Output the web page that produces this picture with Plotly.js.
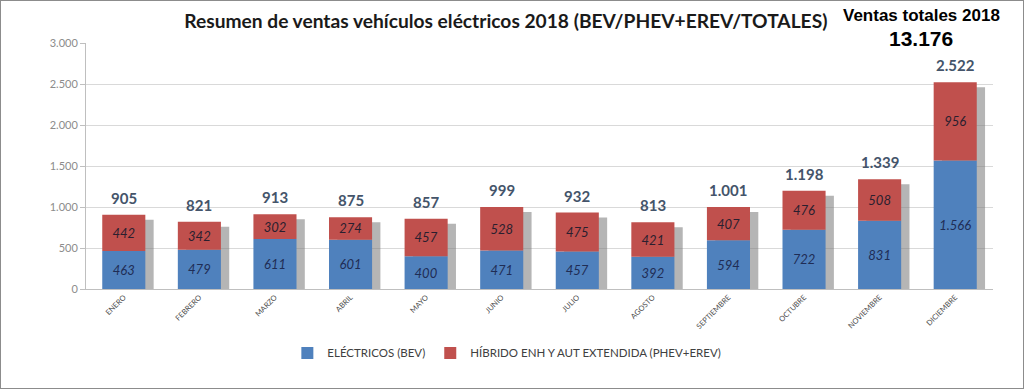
<!DOCTYPE html>
<html>
<head>
<meta charset="utf-8">
<script src="https://cdn.plot.ly/plotly-3.0.1.min.js"></script>
<style>
  html, body { margin: 0; padding: 0; background: #fff; }
  #chart { width: 1022px; height: 387px; border: 1px solid #8c8c8c; }
</style>
</head>
<body>
<div id="chart"></div>
<script>
const months = ["ENERO","FEBRERO","MARZO","ABRIL","MAYO","JUNIO","JULIO","AGOSTO","SEPTIEMBRE","OCTUBRE","NOVIEMBRE","DICIEMBRE"];
const bev = [463, 479, 611, 601, 400, 471, 457, 392, 594, 722, 831, 1566];
const hybrid = [442, 342, 302, 274, 457, 528, 475, 421, 407, 476, 508, 956];
const totals = [905, 821, 913, 875, 857, 999, 932, 813, 1001, 1198, 1339, 2522];
const yearTotalLabel = "13.176";
const titleText = "Resumen de ventas vehículos eléctricos 2018 (BEV/PHEV+EREV/TOTALES)";

const BAR_W = 0.57;
const bodyFont = "Lato, 'Open Sans', sans-serif";

const traces = [
  { // drop shadow (on shifted base axis)
    type: "bar", x: months, y: totals, xaxis: "x", yaxis: "y",
    width: BAR_W, offset: -BAR_W/2 + 0.11,
    marker: { color: "rgba(120,120,120,0.55)", line: { width: 0 } },
    showlegend: false, hoverinfo: "skip"
  },
  {
    type: "bar", name: "ELÉCTRICOS (BEV)", x: months, y: bev, xaxis: "x", yaxis: "y2",
    width: BAR_W, offset: -BAR_W/2,
    marker: { color: "#4f81bd" },
    texttemplate: "%{y:,}", textposition: "inside", insidetextanchor: "middle", textangle: 0,
    textfont: { family: bodyFont, size: 13, style: "italic", color: "#1f2d55" }
  },
  {
    type: "bar", name: "HÍBRIDO ENH Y AUT EXTENDIDA (PHEV+EREV)", x: months, y: hybrid, base: bev,
    xaxis: "x", yaxis: "y2",
    width: BAR_W, offset: -BAR_W/2,
    marker: { color: "#c0504d" },
    texttemplate: "%{y:,}", textposition: "inside", insidetextanchor: "middle", textangle: 0,
    textfont: { family: bodyFont, size: 13, style: "italic", color: "#2a1f2f" }
  }
];

const annotations = months.map((m, i) => ({
  x: m, y: totals[i], xref: "x", yref: "y2",
  text: totals[i].toLocaleString("de-DE"),
  showarrow: false, yanchor: "bottom", yshift: 6,
  font: { family: bodyFont, size: 15, weight: "bold", color: "#44546a" }
}));
annotations.push({
  x: 0.921, y: 1.11, xref: "paper", yref: "paper", xanchor: "center", yanchor: "middle",
  showarrow: false,
  text: "<b>Ventas totales 2018</b>",
  font: { family: "'Liberation Sans', Arial, sans-serif", size: 17, color: "#000" }
});
annotations.push({
  x: 0.921, y: 1.02, xref: "paper", yref: "paper", xanchor: "center", yanchor: "middle",
  showarrow: false,
  text: "<b>" + yearTotalLabel + "</b>",
  font: { family: "'Liberation Sans', Arial, sans-serif", size: 21, color: "#000" }
});

const layout = {
  width: 1022, height: 387,
  margin: { l: 85, r: 30, t: 42, b: 99 },
  paper_bgcolor: "#fff", plot_bgcolor: "#fff",
  separators: ",.",
  barmode: "overlay",
  title: {
    text: "<b>" + titleText + "</b>",
    x: 0.494, xanchor: "center", y: 0.948, yanchor: "middle",
    font: { family: bodyFont, size: 19.2, color: "#1a1a1a" }
  },
  xaxis: {
    type: "category", tickangle: -45,
    tickfont: { family: bodyFont, size: 7.5, color: "#4d4d4d" },
    showline: true, linecolor: "#bfbfbf", linewidth: 1,
    ticks: "", showgrid: false, zeroline: false
  },
  yaxis: {
    range: [61, 3061], visible: false, showgrid: false, zeroline: false, fixedrange: true
  },
  yaxis2: {
    overlaying: "y", side: "left", range: [0, 3000], dtick: 500, tickformat: ",",
    showgrid: true, gridcolor: "#d9d9d9", gridwidth: 1,
    showline: true, linecolor: "#bfbfbf", linewidth: 1,
    ticks: "outside", ticklen: 5, tickcolor: "#bfbfbf",
    zeroline: false,
    tickfont: { family: bodyFont, size: 11, color: "#8c8c8c" }
  },
  legend: {
    orientation: "h", x: 0.464, xanchor: "center", y: -0.26, yanchor: "middle",
    font: { family: bodyFont, size: 11.5, color: "#404040" },
    traceorder: "normal", itemwidth: 30
  },
  annotations: annotations,
  showlegend: true
};

Plotly.newPlot("chart", traces, layout, { displayModeBar: false, staticPlot: true });
</script>
</body>
</html>
